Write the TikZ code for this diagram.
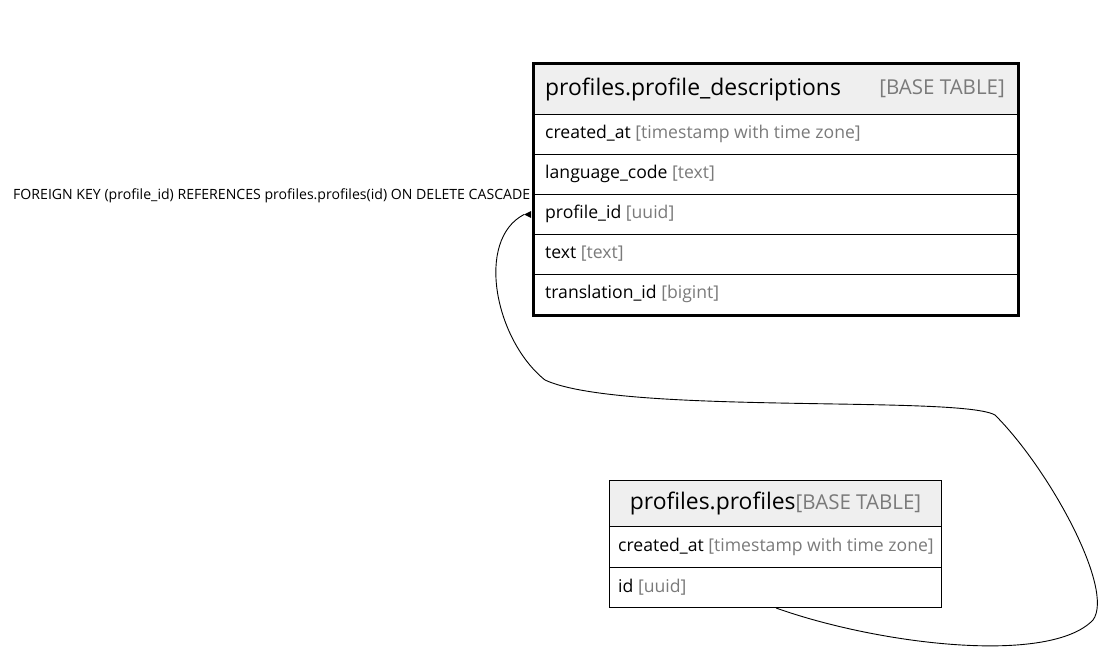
\documentclass[tikz,border=0pt]{standalone}
\usepackage{fontspec}
\setmainfont{Open Sans}
\definecolor{hdrfill}{HTML}{EFEFEF}
\definecolor{typegray}{HTML}{7A7A7A}
\newcommand{\coltype}[1]{\textcolor{typegray}{#1}}
\newcommand{\basetag}{\textcolor{typegray}{\fontsize{20.5}{24}\selectfont[BASE TABLE]}}
\begin{document}
\begin{tikzpicture}[x=1pt,y=-1pt,
  cell/.style={draw, line width=1pt, anchor=north west, inner sep=0pt},
  hdr/.style={cell, fill=hdrfill},
  rowtext/.style={anchor=west, inner sep=0pt, font=\fontsize{17.6}{20}\selectfont},
  hdrtext/.style={anchor=west, inner sep=0pt, font=\fontsize{22.9}{27}\selectfont},
  fklabel/.style={anchor=west, inner sep=0pt, font=\fontsize{14.1}{17}\selectfont}]
\useasboundingbox (0,0) rectangle (1103,669);

% table profiles.profile_descriptions
\node[hdr, minimum width=484pt, minimum height=50pt] (pdh) at (533,64) {};
\node[cell, minimum width=484pt, minimum height=40pt] (pd1) at (533,114) {};
\node[cell, minimum width=484pt, minimum height=40pt] (pd2) at (533,154) {};
\node[cell, minimum width=484pt, minimum height=40pt] (pd3) at (533,194) {};
\node[cell, minimum width=484pt, minimum height=40pt] (pd4) at (533,234) {};
\node[cell, minimum width=484pt, minimum height=40pt] (pd5) at (533,274) {};
\draw[line width=3pt] (pdh.north west) rectangle (pd5.south east);
\node[hdrtext] (pdht) at (545,89) {profiles.profile\_descriptions};
\node[anchor=east, inner sep=0pt] (pdhb) at (1005,89) {\basetag};
\node[rowtext] (pd1t) at (545,134) {created\_at \coltype{[timestamp with time zone]}};
\node[rowtext] (pd2t) at (545,174) {language\_code \coltype{[text]}};
\node[rowtext] (pd3t) at (545,214) {profile\_id \coltype{[uuid]}};
\node[rowtext] (pd4t) at (545,254) {text \coltype{[text]}};
\node[rowtext] (pd5t) at (545,294) {translation\_id \coltype{[bigint]}};

% table profiles.profiles
\node[hdr, minimum width=332pt, minimum height=46pt] (prh) at (609,480) {};
\node[cell, minimum width=332pt, minimum height=41pt] (pr1) at (609,526) {};
\node[cell, minimum width=332pt, minimum height=40pt] (pr2) at (609,567) {};
\node[hdrtext, anchor=center] (prht) at (prh.center) {profiles.profiles\basetag};
\node[rowtext] (pr1t) at (618,546.5) {created\_at \coltype{[timestamp with time zone]}};
\node[rowtext] (pr2t) at (618,587) {id \coltype{[uuid]}};

% foreign key label
\node[fklabel] (fk) at (13,196) {FOREIGN KEY (profile\_id) REFERENCES profiles.profiles(id) ON DELETE CASCADE};

% relationship connector
\coordinate (src) at ([xshift=167pt]pr2.south west);
\coordinate (tip) at ([xshift=-9pt]pd3.west);
\draw[line width=0.9pt] (src)
  .. controls (880,645) and (1050,665) .. (1093,620)
  .. controls (1115,590) and (1050,470) .. (995,415)
  .. controls (960,395) and (620,415) .. (545,380)
  .. controls (495,340) and (475,240) .. (tip);
\fill (pd3.west) ++(-9pt,0) -- ++(7pt,-3.5pt) -- ++(0,7pt) -- cycle;
\end{tikzpicture}
\end{document}
